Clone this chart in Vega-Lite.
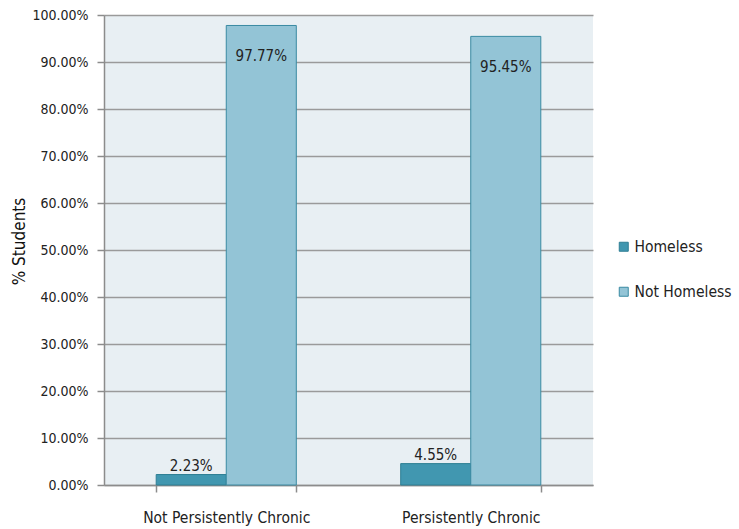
{
  "$schema": "https://vega.github.io/schema/vega-lite/v6.json",
  "width": 489,
  "height": 470,
  "autosize": {"type": "none"},
  "padding": {"left": 104, "top": 15, "right": 146, "bottom": 44},
  "background": "white",
  "config": {
    "font": "Liberation Sans Narrow, DejaVu Sans Condensed, Liberation Sans, sans-serif",
    "view": {"fill": "#e8eff3", "stroke": null}
  },
  "data": {
    "values": [
      {"group": "Not Persistently Chronic", "status": "Homeless", "pct": 0.0223, "label": "2.23%"},
      {"group": "Not Persistently Chronic", "status": "Not Homeless", "pct": 0.9777, "label": "97.77%"},
      {"group": "Persistently Chronic", "status": "Homeless", "pct": 0.0455, "label": "4.55%"},
      {"group": "Persistently Chronic", "status": "Not Homeless", "pct": 0.9545, "label": "95.45%"}
    ]
  },
  "encoding": {
    "x": {
      "field": "group", "type": "nominal", "sort": null,
      "scale": {"paddingInner": 0.427, "paddingOuter": 0.2135},
      "axis": {
        "title": null, "labelAngle": 0, "tickBand": "extent",
        "domainColor": "#8c8c8c", "domainWidth": 1.5, "tickColor": "#8c8c8c", "tickWidth": 1.5, "tickSize": 7,
        "labelFontSize": 15.5, "labelColor": "#222222", "labelPadding": 18, "labelBaseline": "top"
      }
    },
    "xOffset": {"field": "status", "type": "nominal", "sort": ["Homeless", "Not Homeless"]},
    "y": {
      "field": "pct", "type": "quantitative",
      "scale": {"domain": [0, 1], "nice": false},
      "axis": {
        "title": "% Students", "format": ".2%", "values": [0, 0.1, 0.2, 0.3, 0.4, 0.5, 0.6, 0.7, 0.8, 0.9, 1.0],
        "gridColor": "#9a9a9a", "gridWidth": 1.5,
        "domainColor": "#8c8c8c", "domainWidth": 1.5, "tickColor": "#8c8c8c", "tickWidth": 1.5, "tickSize": 7,
        "labelFontSize": 14, "labelColor": "#222222", "labelPadding": 9,
        "titleFontSize": 17, "titleFontWeight": "normal", "titleColor": "#111111",
        "titleX": -76, "titleY": 226
      }
    }
  },
  "layer": [
    {
      "mark": {"type": "bar", "strokeWidth": 1},
      "encoding": {
        "color": {
          "field": "status", "type": "nominal",
          "scale": {"domain": ["Homeless", "Not Homeless"], "range": ["#4197b0", "#93c4d6"]},
          "legend": {
            "title": null, "orient": "none", "legendX": 512, "legendY": 224,
            "symbolType": "square", "symbolSize": 81, "symbolStrokeColor": "#2f7f94", "symbolStrokeWidth": 1,
            "labelFontSize": 15.5, "labelColor": "#222222", "labelOffset": 3, "rowPadding": 28, "labelLimit": 300
          }
        },
        "stroke": {
          "field": "status", "type": "nominal",
          "scale": {"domain": ["Homeless", "Not Homeless"], "range": ["#2f7f94", "#3a8aa2"]},
          "legend": null
        }
      }
    },
    {
      "transform": [{"filter": "datum.status === 'Not Homeless'"}],
      "mark": {"type": "text", "baseline": "middle", "dy": 31, "fontSize": 15, "color": "#222222"},
      "encoding": {"text": {"field": "label"}}
    },
    {
      "transform": [{"filter": "datum.status === 'Homeless'"}],
      "mark": {"type": "text", "baseline": "middle", "dy": -9, "fontSize": 15, "color": "#222222"},
      "encoding": {"text": {"field": "label"}}
    }
  ]
}
